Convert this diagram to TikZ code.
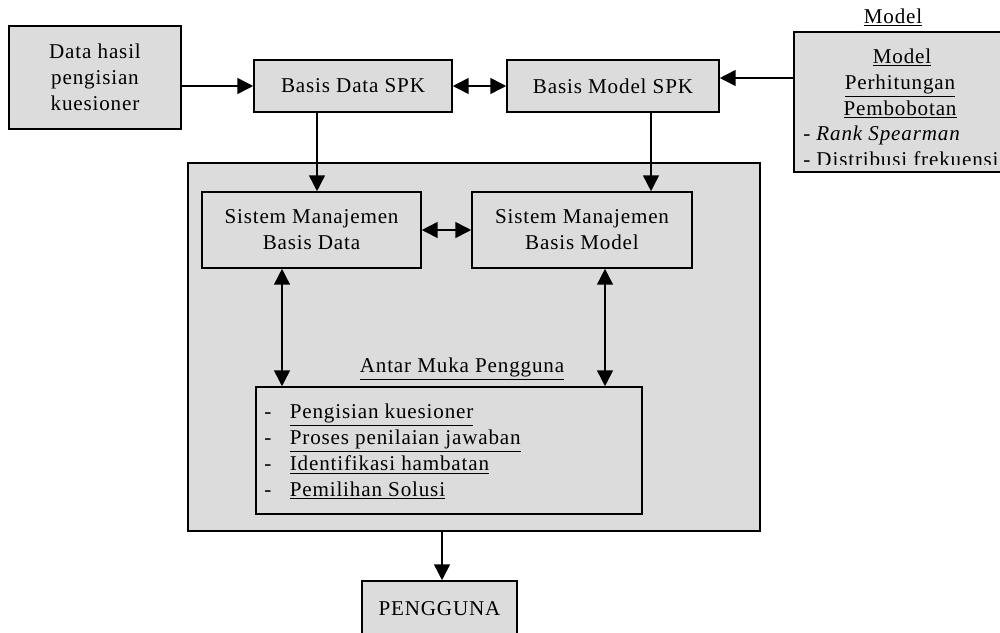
\documentclass[tikz,border=0pt]{standalone}
\usepackage{fontspec}
\setmainfont[LetterSpace=4]{Liberation Serif}
\usetikzlibrary{arrows.meta}
\definecolor{panel}{HTML}{DCDCDC}
\begin{document}
\begin{tikzpicture}[x=0.02cm,y=-0.02cm,
  every node/.style={font=\fontsize{12}{14.7}\selectfont},
  blok/.style={draw=black, fill=panel, line width=0.9pt, inner sep=0pt, align=center},
  txt/.style={inner sep=0pt, anchor=base},
  arr/.style={line width=0.9pt, -{Triangle[length=9pt,width=9pt]}},
  darr/.style={line width=0.9pt, {Triangle[length=9pt,width=9pt]}-{Triangle[length=9pt,width=9pt]}}]
\useasboundingbox (0,0) rectangle (1000,632);

% column positions of the vertical connectors
\coordinate (c78) at (0,78);
\coordinate (c317) at (317,0);
\coordinate (c651) at (651,0);
\coordinate (c282) at (282,0);
\coordinate (c605) at (605,0);
\coordinate (c442) at (442,0);

% top row
\node[blok, minimum width=3.44cm, minimum height=2.06cm] (data) at (95,77.5)
  {Data hasil\\pengisian\\kuesioner};
\node[blok, minimum width=3.96cm, minimum height=1.04cm] (bds) at (353,86) {Basis Data SPK};
\node[blok, minimum width=4.24cm, minimum height=1.04cm] (bms) at (613,86) {Basis Model SPK};

% model box on the right
\node[txt] (mtitle) at (893,23) {\underline{Model}};
\node[blok, minimum width=4.32cm, minimum height=2.8cm] (model) at (902,102) {};
\begin{scope}
  \clip (794,32) rectangle (1010,164);
  \node[txt] (m1) at (902,63) {\underline{Model}};
  \node[txt] (m2) at (900,89) {\underline{Perhitungan}};
  \node[txt] (m3) at (900,115) {\underline{Pembobotan}};
  \node[txt, anchor=base west] (m4) at (803,140) {- \textit{Rank Spearman}};
  \node[txt, anchor=base west] (m5) at (803,166) {- Distribusi frekuensi};
\end{scope}

% system block
\node[blok, minimum width=11.44cm, minimum height=7.36cm] (outer) at (474,347) {};
\node[blok, minimum width=4.38cm, minimum height=1.52cm] (smbd) at (311.5,230)
  {Sistem Manajemen\\Basis Data};
\node[blok, minimum width=4.4cm, minimum height=1.52cm] (smbm) at (582,230)
  {Sistem Manajemen\\Basis Model};
\node[txt] (amp) at (462,372) {\underline{Antar Muka Pengguna}};
\node[blok, minimum width=7.72cm, minimum height=2.54cm] (ui) at (449,450.5) {};
\node[txt, anchor=base west] (items) at (264,418) {%
  \begin{tabular}[t]{@{}l@{\hspace{10.5pt}}l@{}}
  - & \underline{Pengisian kuesioner}\\
  - & \underline{Proses penilaian jawaban}\\
  - & \underline{Identifikasi hambatan}\\
  - & \underline{Pemilihan Solusi}
  \end{tabular}};

% user
\node[blok, minimum width=3.1cm, minimum height=1.12cm] (pengguna) at (439.5,609) {PENGGUNA};

% connectors
\draw[arr] (data.east |- bds.west) -- (bds.west);
\draw[darr] (bds) -- (bms);
\draw[arr] (model.west |- c78) -- (bms.east |- c78);
\draw[arr] (bds.south -| c317) -- (smbd.north -| c317);
\draw[arr] (bms.south -| c651) -- (smbm.north -| c651);
\draw[darr] (smbd) -- (smbm);
\draw[darr] (smbd.south -| c282) -- (ui.north -| c282);
\draw[darr] (smbm.south -| c605) -- (ui.north -| c605);
\draw[arr] (outer.south -| c442) -- (pengguna.north -| c442);
\end{tikzpicture}
\end{document}
